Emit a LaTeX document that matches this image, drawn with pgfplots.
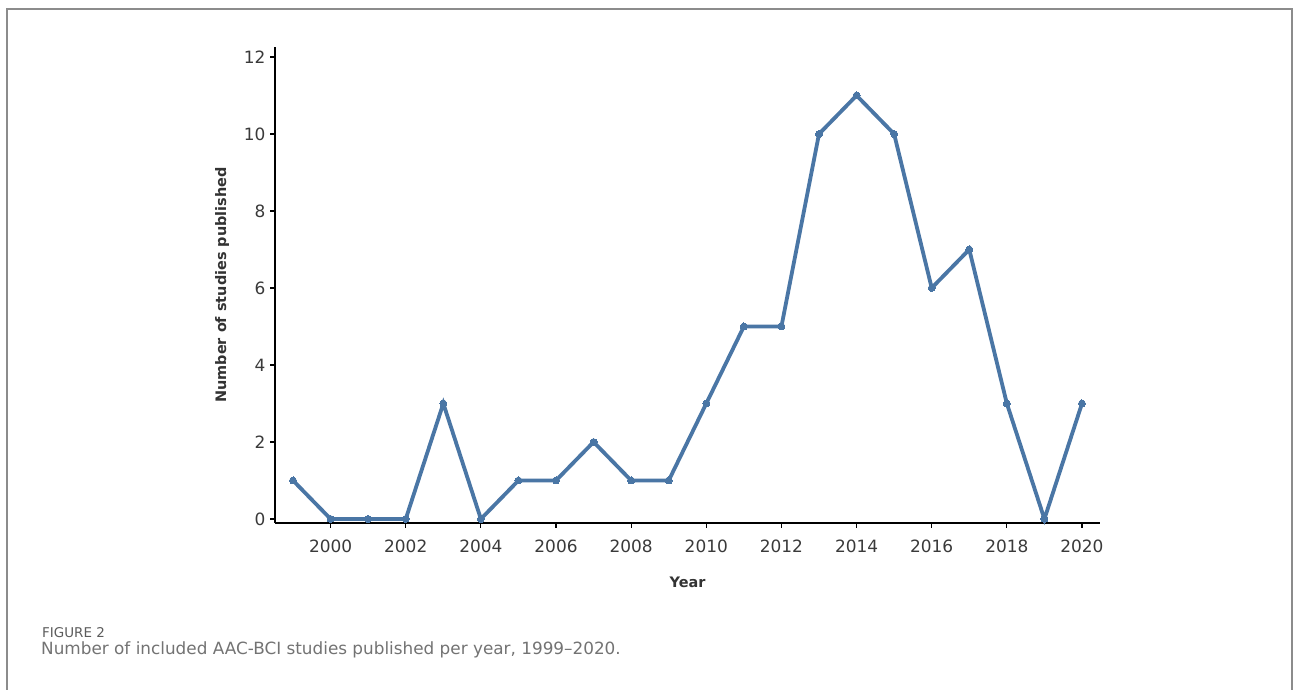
\documentclass[border=0pt]{standalone}
\usepackage{pgfplots}
\pgfplotsset{compat=1.18}
\usepackage{fontspec}
\setmainfont{DejaVu Sans}
\definecolor{line}{HTML}{4A76A5}
\definecolor{tick}{HTML}{3A3A3A}
\definecolor{capgray}{HTML}{737373}
\definecolor{frame}{HTML}{8C8C8C}
\begin{document}
\begin{tikzpicture}[x=1bp,y=1bp]
\useasboundingbox (0,0) rectangle (1293,690);
\fill[white] (0,0) rectangle (1293,690);
\draw[frame, line width=1.6bp] (7,-5) -- (7,681) -- (1292,681) -- (1292,-5);
\begin{axis}[
  at={(275bp,167bp)}, anchor=south west,
  scale only axis, width=825bp, height=476bp,
  xmin=1998.52, xmax=2020.48, ymin=-0.104, ymax=12.26,
  axis lines=left, axis line style={line width=1.2bp, black, -},
  xtick={2000,2002,...,2020}, ytick={0,2,...,12},
  /pgf/number format/1000 sep={},
  tick style={line width=1.2bp, black},
  tick align=outside, major tick length=5bp,
  /pgf/number format/assume math mode=true,
  ticklabel style={font=\fontsize{17}{19}\selectfont, text=tick},
  xticklabel style={yshift=-8bp},
  yticklabel style={xshift=-1bp},
  xlabel={Year}, ylabel={Number of studies published},
  label style={font=\bfseries\fontsize{14.5}{17}\selectfont, text=black!80},
  xlabel style={yshift=-18bp},
  ylabel style={yshift=8bp},
  clip=false,
]
\addplot[line, line width=3.8bp, mark=*, mark size=3.5bp, mark options={fill=line, draw=line, line width=0pt}] coordinates {
(1999,1) (2000,0) (2001,0) (2002,0) (2003,3) (2004,0) (2005,1) (2006,1)
(2007,2) (2008,1) (2009,1) (2010,3) (2011,5) (2012,5) (2013,10) (2014,11)
(2015,10) (2016,6) (2017,7) (2018,3) (2019,0) (2020,3)
};
\end{axis}
\node[anchor=base west, inner sep=0, text=capgray!80!black, font=\fontsize{13.5}{16}\selectfont] at (42,52) {FIGURE 2};
\node[anchor=base west, inner sep=0, text=capgray, font=\fontsize{16.9}{19}\selectfont] at (41,35) {Number of included AAC-BCI studies published per year, 1999–2020.};
\end{tikzpicture}
\end{document}
